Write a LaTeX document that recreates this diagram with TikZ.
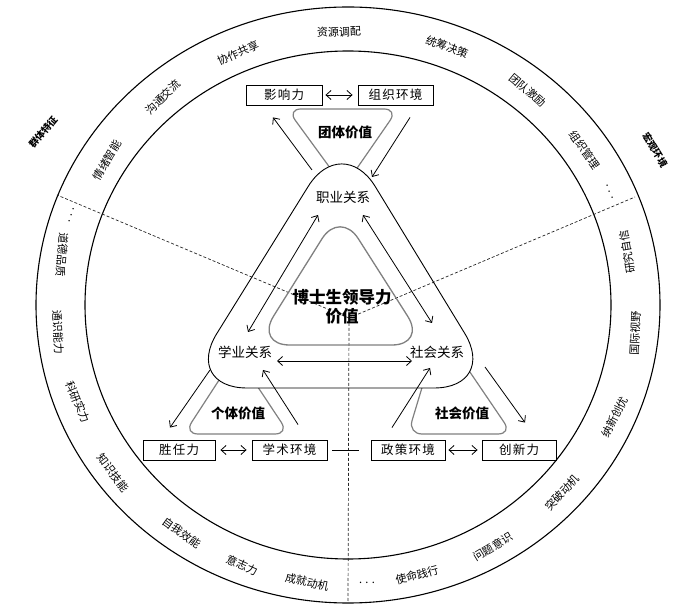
\documentclass[tikz,border=0pt]{standalone}
\usepackage{fontspec}
\setmainfont{Noto Sans CJK SC}
\newfontfamily\boxfont[LetterSpace=10]{Noto Sans CJK SC}
\usetikzlibrary{arrows.meta,calc}
\begin{document}
\begin{tikzpicture}[x=1pt,y=1pt,
  ring/.style={line width=1.1pt},
  ringlbl/.style={font=\fontsize{11}{12}\selectfont, inner sep=0pt},
  outlbl/.style={font=\bfseries\fontsize{9.5}{10}\selectfont, inner sep=0pt},
  boxn/.style={draw, line width=0.9pt, minimum height=20pt, inner sep=0pt, font=\boxfont\fontsize{12.5}{14}\selectfont},
  rel/.style={font=\fontsize{13.5}{15}\selectfont, inner sep=1pt},
  grayshape/.style={draw=black!50, line width=1.2pt, rounded corners=14pt},
  vallbl/.style={font=\bfseries\fontsize{13.5}{15}\selectfont, inner sep=0pt},
  arr/.style={line width=0.8pt, -{Straight Barb[length=5pt,width=9pt]}},
  darr/.style={line width=0.8pt, {Straight Barb[length=5pt,width=9pt]}-{Straight Barb[length=5pt,width=9pt]}},
  divline/.style={dash pattern=on 3pt off 2pt, line width=0.7pt, black!85}
]
\useasboundingbox (0,0) rectangle (700,607);

% rings
\draw[ring] (348,302) ellipse [x radius=312, y radius=298];
\draw[ring] (348,302) ellipse [x radius=263, y radius=254];

% gray value shapes
\draw[grayshape] (287,498) -- (398,498) -- (344,420) -- cycle;
\draw[grayshape] (236,253) -- (289,173) -- (184,173) -- cycle;
\draw[grayshape] (440,279) -- (512,173) -- (408,173) -- cycle;

% big triangle fill
\fill[white, rounded corners=64pt] (342,475) -- (498,219) -- (183,219) -- cycle;

% divider lines
\coordinate (ctr) at (349,289);
\coordinate (dl) at (57,412);
\coordinate (dr) at (635,410);
\coordinate (db) at (348,5);
\draw[divline] (ctr) -- (dl);
\draw[divline] (ctr) -- (dr);
\draw[divline] (ctr) -- (db);

% big triangle border and inner gray triangle
\draw[line width=0.9pt, rounded corners=64pt] (342,475) -- (498,219) -- (183,219) -- cycle;
\draw[draw=black!50, line width=1.3pt, rounded corners=34pt] (340,397) -- (426,262) -- (255.5,262) -- cycle;

% relation nodes
\node[rel] (zy) at (343,410) {职业关系};
\node[rel] (xy) at (245,255) {学业关系};
\node[rel] (sh) at (437,255) {社会关系};
\node[font=\bfseries\fontsize{16.5}{19}\selectfont, align=center, inner sep=0pt] (title) at (342,300) {博士生领导力\\价值};

% value labels
\node[vallbl] (tt) at (345,475) {团体价值};
\node[vallbl] (gt) at (238,194) {个体价值};
\node[vallbl] (shv) at (462,194) {社会价值};

% boxes
\node[boxn, minimum width=76pt] (yxl) at (284,512) {影响力};
\node[boxn, minimum width=75pt] (zzhj) at (395.5,512) {组织环境};
\node[boxn, minimum width=72pt] (srl) at (179,157) {胜任力};
\node[boxn, minimum width=75pt] (xshj) at (289.5,157) {学术环境};
\node[boxn, minimum width=74pt] (zchj) at (408,157) {政策环境};
\node[boxn, minimum width=74pt] (cxl) at (519,157) {创新力};

% box connectors
\draw[darr, shorten <=3pt, shorten >=5pt] (yxl) -- (zzhj);
\draw[darr, shorten <=5pt, shorten >=5pt] (srl) -- (xshj);
\draw[darr, shorten <=3pt, shorten >=4pt] (zchj) -- (cxl);
\draw[line width=0.8pt, shorten <=5pt, shorten >=12pt] (xshj) -- (zchj);

% arrows between boxes and relations
\draw[arr] ([shift={(-31,27)}]zy.center) -- ([shift={(-11,-12)}]yxl.south);
\draw[arr] ([shift={(14.5,-12)}]zzhj.south) -- ([shift={(29,20)}]zy.center);
\draw[arr] ([shift={(-35,-18)}]xy.center) -- ([shift={(-9,12)}]srl.north);
\draw[arr] ([shift={(8.5,15)}]xshj.north) -- ([shift={(18,-18)}]xy.center);
\draw[arr] ([shift={(-16,12)}]zchj.north) -- ([shift={(-7,-16)}]sh.center);
\draw[arr] ([shift={(48,-15)}]sh.center) -- ([shift={(6,17)}]cxl.north);

% arrows among relations
\draw[darr] ([shift={(-25,-18)}]zy.center) -- ([shift={(3,20)}]xy.center);
\draw[darr] ([shift={(20,-18)}]zy.center) -- ([shift={(-5,29)}]sh.center);
\draw[darr] ([shift={(32,-9)}]xy.center) -- ([shift={(-25,-9)}]sh.center);

% ring labels
\node[ringlbl, rotate=60] (r1) at (107,447) {情绪智能};
\node[ringlbl, rotate=44] (r2) at (163,510) {沟通交流};
\node[ringlbl, rotate=24] (r3) at (238,554) {协作共享};
\node[ringlbl, rotate=2] (r4) at (339,575) {资源调配};
\node[ringlbl, rotate=-21] (r5) at (447,560) {统筹决策};
\node[ringlbl, rotate=-40] (r6) at (528,517) {团队激励};
\node[ringlbl, rotate=-55] (r7) at (585,457) {组织管理};
\node[ringlbl, rotate=-70] (r8) at (610,415) {. . .};
\node[ringlbl, rotate=-108] (r9) at (72,392) {. . .};
\node[ringlbl, rotate=-95] (r10) at (62,352) {道德品质};
\node[ringlbl, rotate=-87] (r11) at (58,275) {通识能力};
\node[ringlbl, rotate=-68] (r12) at (78,205) {科研实力};
\node[ringlbl, rotate=-53] (r13) at (113,134) {知识技能};
\node[ringlbl, rotate=-36] (r14) at (182,74) {自我效能};
\node[ringlbl, rotate=-24] (r15) at (242,42) {意志力};
\node[ringlbl, rotate=-12] (r16) at (307,25) {成就动机};
\node[ringlbl] (r17) at (367,24) {. . .};
\node[ringlbl, rotate=15] (r18) at (417,32) {使命践行};
\node[ringlbl, rotate=31] (r19) at (493,60) {问题意识};
\node[ringlbl, rotate=47] (r20) at (562,114) {突破动机};
\node[ringlbl, rotate=63] (r21) at (615,190) {纳新创优};
\node[ringlbl, rotate=87] (r22) at (635,274) {国际视野};
\node[ringlbl, rotate=100] (r23) at (627,355) {研究自信};

% outer labels
\node[outlbl, rotate=50] (o1) at (43,475) {群体特征};
\node[outlbl, rotate=-59] (o2) at (655,457) {宏观环境};
\end{tikzpicture}
\end{document}
